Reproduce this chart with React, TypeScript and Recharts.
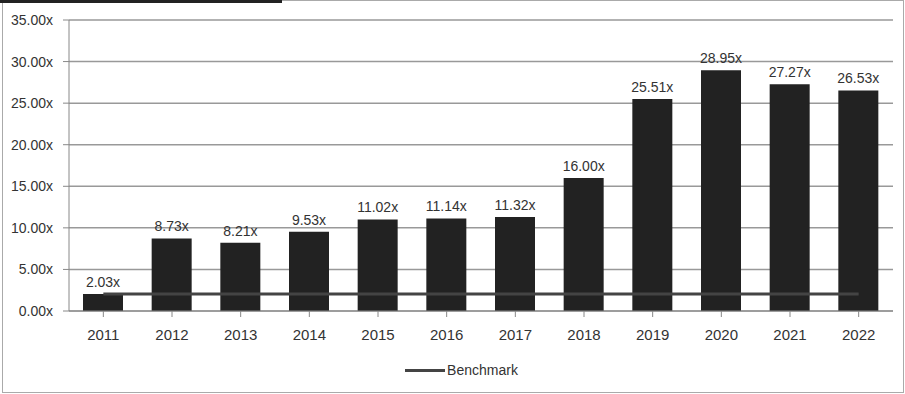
import React from "react";
import {
  ComposedChart,
  Bar,
  Line,
  XAxis,
  YAxis,
  CartesianGrid,
  Legend,
  LabelList,
} from "recharts";

const years = [
  "2011", "2012", "2013", "2014", "2015", "2016",
  "2017", "2018", "2019", "2020", "2021", "2022",
];
const multiples = [
  2.03, 8.73, 8.21, 9.53, 11.02, 11.14, 11.32, 16.0, 25.51, 28.95, 27.27, 26.53,
];
const benchmark = [
  2.05, 2.05, 2.05, 2.05, 2.05, 2.05, 2.05, 2.05, 2.05, 2.05, 2.05, 2.05,
];
const yTicks = [0, 5, 10, 15, 20, 25, 30, 35];

const data = years.map((year, i) => ({
  year,
  multiple: multiples[i],
  benchmark: benchmark[i],
}));

const fmt = (v: number) => `${v.toFixed(2)}x`;
const FONT = '"Liberation Sans", Arial, sans-serif';

function BenchmarkLegend() {
  return (
    <div
      style={{
        display: "flex",
        alignItems: "center",
        justifyContent: "center",
        fontFamily: FONT,
        fontSize: 14,
        color: "#333",
        paddingLeft: 30,
        paddingTop: 18,
      }}
    >
      <span
        style={{
          display: "inline-block",
          width: 40,
          height: 3,
          background: "#444",
          marginRight: 2,
        }}
      />
      Benchmark
    </div>
  );
}

export default function App() {
  return (
    <div
      style={{
        position: "absolute",
        left: 0,
        top: 0,
        width: 905,
        height: 394,
        background: "#fff",
        overflow: "hidden",
      }}
    >
      <div
        style={{
          position: "absolute",
          left: 2,
          top: 0,
          width: 900,
          height: 391,
          border: "1px solid #aaa",
        }}
      />
      <div
        style={{
          position: "absolute",
          left: 0,
          top: 0,
          width: 282,
          height: 3,
          background: "#222",
        }}
      />
      <ComposedChart
        width={905}
        height={394}
        data={data}
        margin={{ top: 20, right: 12, left: 0, bottom: 4 }}
        barCategoryGap={28}
      >
        <CartesianGrid
          vertical={false}
          stroke="#999"
          strokeWidth={1.5}
        />
        <XAxis
          dataKey="year"
          height={33}
          stroke="#888"
          tickSize={6}
          tickMargin={12}
          tick={{ fill: "#333", fontSize: 15, fontFamily: FONT }}
          interval={0}
        />
        <YAxis
          width={69}
          domain={[0, 35]}
          ticks={yTicks}
          tickFormatter={fmt}
          stroke="#888"
          tickSize={6}
          tickMargin={10}
          tick={{ fill: "#333", fontSize: 14, fontFamily: FONT }}
          interval={0}
        />
        <Legend verticalAlign="bottom" height={46} content={<BenchmarkLegend />} />
        <Bar
          dataKey="multiple"
          fill="#222"
          barSize={40}
          isAnimationActive={false}
          legendType="none"
        >
          <LabelList
            dataKey="multiple"
            position="top"
            offset={7}
            formatter={(v: any) => fmt(Number(v))}
            style={{ fill: "#333", fontSize: 14, fontFamily: FONT }}
          />
        </Bar>
        <Line
          dataKey="benchmark"
          stroke="#444"
          strokeWidth={3}
          dot={false}
          activeDot={false}
          isAnimationActive={false}
        />
      </ComposedChart>
    </div>
  );
}
